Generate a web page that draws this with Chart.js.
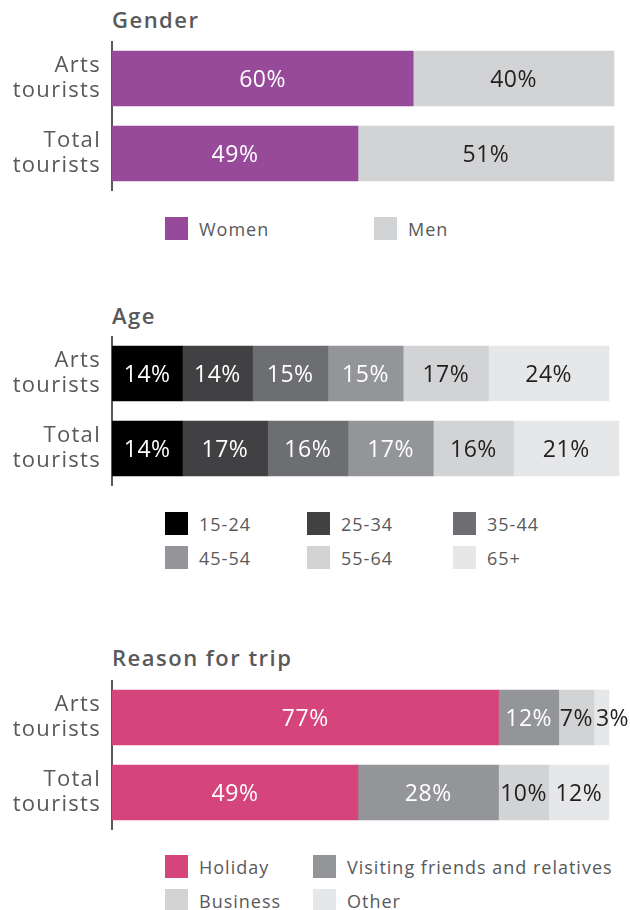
<!DOCTYPE html>
<html>
<head>
<meta charset="utf-8">
<script src="https://cdn.jsdelivr.net/npm/chart.js@4.4.0/dist/chart.umd.min.js"></script>
<style>
    body { margin: 0; background: #fff; }
    #page { position: relative; width: 630px; height: 910px; font-family: 'Open Sans', sans-serif; color: #58595b; }
    .title { position: absolute; left: 112px; font-size: 22px; line-height: 22px; font-weight: 600; letter-spacing: 1.5px; white-space: nowrap; }
    canvas { position: absolute; left: 0; }
    .legend-item { position: absolute; display: flex; align-items: center; height: 23px; font-size: 18px; letter-spacing: 1px; white-space: nowrap; }
    .swatch { width: 23px; height: 23px; margin-right: 11px; }
</style>
</head>
<body>
<div id="page"></div>
<script>
// 数据
const rowLabels = [['Arts', 'tourists'], ['Total', 'tourists']];

const genderSeries = ['Women', 'Men'];
const genderWomen = [60, 49];
const genderMen = [40, 51];

const ageSeries = ['15-24', '25-34', '35-44', '45-54', '55-64', '65+'];
const age15to24 = [14, 14];
const age25to34 = [14, 17];
const age35to44 = [15, 16];
const age45to54 = [15, 17];
const age55to64 = [17, 16];
const age65plus = [24, 21];

const reasonSeries = ['Holiday', 'Visiting friends and relatives', 'Business', 'Other'];
const reasonHoliday = [77, 49];
const reasonVisiting = [12, 28];
const reasonBusiness = [7, 10];
const reasonOther = [3, 12];

// 颜色
const WHITE = '#ffffff';
const DARK = '#231f20';

const panels = [
    {
        title: 'Gender', titleTop: 8, chartTop: 41, legendTop: 217, legendCols: [165, 374],
        series: genderSeries,
        values: [genderWomen, genderMen],
        colors: ['#974a9a', '#d1d3d4'],
        textColors: [WHITE, DARK]
    },
    {
        title: 'Age', titleTop: 304, chartTop: 336, legendTop: 512, legendCols: [165, 307, 453],
        series: ageSeries,
        values: [age15to24, age25to34, age35to44, age45to54, age55to64, age65plus],
        colors: ['#000000', '#414042', '#6d6e71', '#939598', '#d1d3d4', '#e6e7e8'],
        textColors: [WHITE, WHITE, WHITE, WHITE, DARK, DARK]
    },
    {
        title: 'Reason for trip', titleTop: 646, chartTop: 680, legendTop: 855, legendCols: [165, 313],
        series: reasonSeries,
        values: [reasonHoliday, reasonVisiting, reasonBusiness, reasonOther],
        colors: ['#d5457c', '#939598', '#d1d3d4', '#e6e7e8'],
        textColors: [WHITE, WHITE, DARK, DARK]
    }
];

// 条形内的百分比标签
const valueLabels = {
    id: 'valueLabels',
    beforeDraw(chart) {
        chart.ctx.letterSpacing = '1.3px';
    },
    afterDatasetsDraw(chart) {
        const ctx = chart.ctx;
        ctx.save();
        ctx.letterSpacing = '0.5px';
        ctx.font = '23px "Open Sans"';
        ctx.textAlign = 'left';
        ctx.textBaseline = 'alphabetic';
        chart.data.labels.forEach((_, i) => {
            let prevRight = -Infinity;
            chart.data.datasets.forEach((ds, d) => {
                const bar = chart.getDatasetMeta(d).data[i];
                const text = ds.data[i] + '%';
                const w = ctx.measureText(text).width;
                const left = Math.max((bar.x + bar.base) / 2 - w / 2, prevRight + 3);
                ctx.fillStyle = ds.textColor;
                ctx.fillText(text, left, bar.y + 8.3);
                prevRight = left + w;
            });
        });
        ctx.restore();
    }
};

const page = document.getElementById('page');

function buildPanel(p) {
    // 标题
    const title = document.createElement('div');
    title.className = 'title';
    title.style.top = p.titleTop + 'px';
    title.textContent = p.title;
    page.appendChild(title);

    // 图表
    const canvas = document.createElement('canvas');
    canvas.width = 630;
    canvas.height = 150;
    canvas.style.top = p.chartTop + 'px';
    page.appendChild(canvas);

    new Chart(canvas.getContext('2d'), {
        type: 'bar',
        data: {
            labels: rowLabels,
            datasets: p.series.map((name, i) => ({
                label: name,
                data: p.values[i],
                backgroundColor: p.colors[i],
                textColor: p.textColors[i],
                borderWidth: 0,
                barThickness: 55
            }))
        },
        options: {
            indexAxis: 'y',
            responsive: false,
            animation: false,
            layout: { padding: { right: 8 } },
            plugins: {
                legend: { display: false },
                tooltip: { enabled: false }
            },
            scales: {
                x: { stacked: true, min: 0, max: 101.6, display: false },
                y: {
                    stacked: true,
                    grid: { display: true, drawOnChartArea: false, drawTicks: false },
                    border: { display: true, color: '#58595b', width: 2 },
                    ticks: {
                        color: '#58595b',
                        padding: 11,
                        font: { family: 'Open Sans', size: 22, lineHeight: 1.14 }
                    },
                    afterFit(scale) {
                        scale.width = 112;
                        scale.paddingTop = 0;
                        scale.paddingBottom = 0;
                    }
                }
            }
        },
        plugins: [valueLabels]
    });

    // 图例
    const nCols = p.legendCols.length;
    p.series.forEach((name, i) => {
        const item = document.createElement('div');
        item.className = 'legend-item';
        item.style.left = p.legendCols[i % nCols] + 'px';
        item.style.top = (p.legendTop + Math.floor(i / nCols) * 34) + 'px';
        const sw = document.createElement('span');
        sw.className = 'swatch';
        sw.style.background = p.colors[i];
        item.appendChild(sw);
        item.appendChild(document.createTextNode(name));
        page.appendChild(item);
    });
}

panels.forEach(buildPanel);
</script>
</body>
</html>
